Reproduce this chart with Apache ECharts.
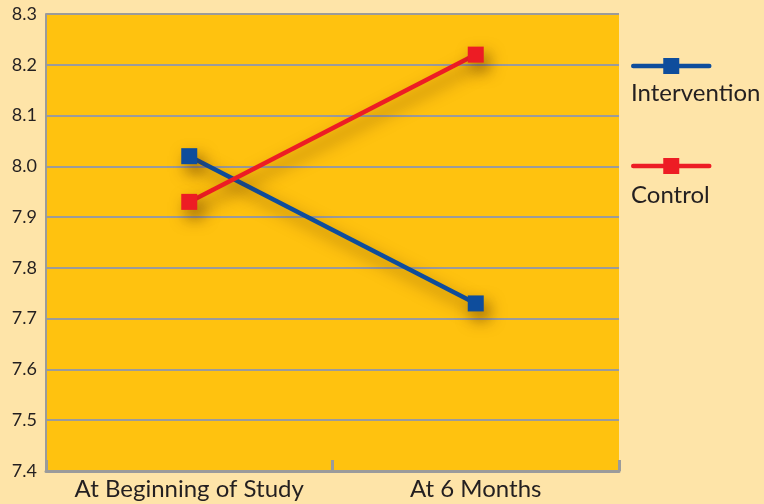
<!DOCTYPE html>
<html><head><meta charset="utf-8">
<script src="https://cdn.jsdelivr.net/npm/echarts@6/dist/echarts.min.js"></script>
<style>html,body{margin:0;padding:0;background:#FEE4A8;}#c{width:764px;height:504px;}</style>
</head><body><div id="c"></div>
<script>
const categories = ['At Beginning of Study', 'At 6 Months'];
const seriesNames = ['Intervention', 'Control'];
const intervention = [8.02, 7.73];
const control = [7.93, 8.22];
const colors = ['#0E4D9C', '#ED1C24'];

const chart = echarts.init(document.getElementById('c'));
const font = 'Lato, "Open Sans", sans-serif';
const shadow = {shadowBlur: 16, shadowColor: 'rgba(80,40,0,0.6)', shadowOffsetX: 5, shadowOffsetY: 8};
function mk(name, data, color) {
  return {
    name, type: 'line', data, symbol: 'rect', symbolSize: 16,
    color, lineStyle: Object.assign({color, width: 4.5}, shadow),
    itemStyle: Object.assign({color}, shadow), z: 3
  };
}
chart.setOption({
  backgroundColor: '#FEE4A8',
  animation: false,
  grid: {left: 46, top: 14, right: 145, bottom: 33, show: true, backgroundColor: '#FFC20F', borderWidth: 0},
  xAxis: {
    type: 'category', data: categories, boundaryGap: true,
    axisLine: {lineStyle: {color: '#9B9B9B', width: 3}},
    axisTick: {show: true, interval: 0, inside: true, length: 11, lineStyle: {color: '#9B9B9B', width: 3}},
    axisLabel: {interval: 0, hideOverlap: false, color: '#231F20', fontSize: 24, fontFamily: font, margin: 6}
  },
  yAxis: {
    type: 'value', min: 7.4, max: 8.3, interval: 0.1,
    axisLine: {show: true, lineStyle: {color: '#9B9B9B', width: 2}},
    axisTick: {show: false},
    splitLine: {lineStyle: {color: '#9B9B9B', width: 2}},
    axisLabel: {color: '#231F20', fontSize: 18, fontFamily: font, margin: 9, formatter: v => v.toFixed(1)}
  },
  legend: {
    orient: 'vertical', left: 631, top: 56, padding: 0, itemWidth: 76, itemHeight: 20, itemGap: 82,
    formatter: () => '', textStyle: {fontSize: 1},
    lineStyle: {width: 4.5, cap: 'round', shadowBlur: 0, shadowOffsetX: 0, shadowOffsetY: 0},
    itemStyle: {shadowBlur: 0, shadowOffsetX: 0, shadowOffsetY: 0},
    data: seriesNames
  },
  graphic: seriesNames.map((n, i) => ({
    type: 'text', left: 631, top: 81 + i * 102,
    style: {text: n, fill: '#231F20', fontSize: 24, fontFamily: font}
  })),
  series: [mk(seriesNames[0], intervention, colors[0]), mk(seriesNames[1], control, colors[1])]
});
</script></body></html>
